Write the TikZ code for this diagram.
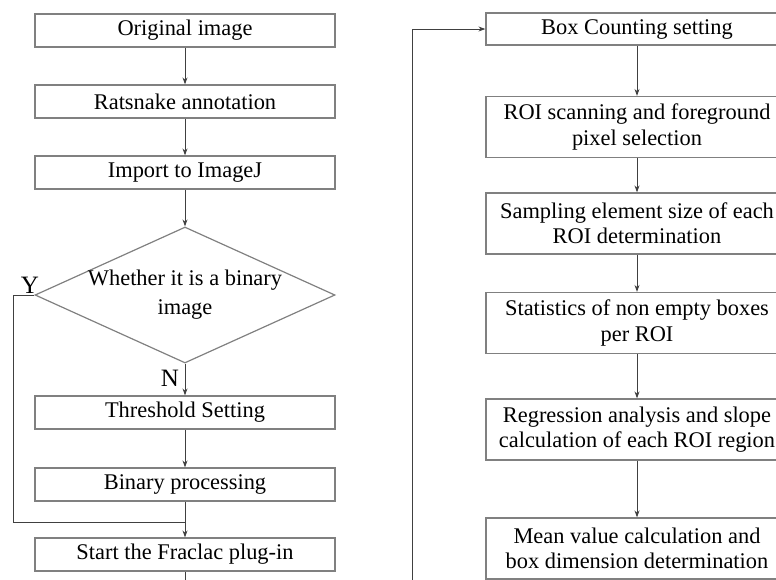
\documentclass[tikz,border=0pt]{standalone}
\usepackage{fontspec}
\setmainfont{Liberation Serif}
\usetikzlibrary{shapes.geometric, arrows.meta}

\begin{document}
\begin{tikzpicture}[x=0.5pt, y=-0.5pt,
    font=\fontsize{11.2}{12.6}\selectfont,
    proc/.style={rectangle, draw=black!50, line width=0.6pt, minimum width=150pt, minimum height=16.5pt, inner sep=1pt, align=center},
    wide/.style={proc, minimum width=151pt, minimum height=30.5pt},
    decide/.style={diamond, draw=black!50, line width=0.6pt, aspect=2.2, inner sep=-2pt, minimum width=150pt, minimum height=68pt, align=center},
    flow/.style={draw=black!75, line width=0.5pt, -{Stealth[length=3.5pt, width=2.5pt]}},
    line/.style={draw=black!75, line width=0.5pt},
    lab/.style={font=\fontsize{12.5}{14}\selectfont, inner sep=0pt}]
    \useasboundingbox (0,0) rectangle (776,579);
    \clip (0,0) rectangle (776,579);

    % left column
    \node[proc] (orig) at (185,30.5) {Original image};
    \node[proc] (rats) at (185,101.5) {Ratsnake annotation};
    \node[proc] (imp) at (185,172.5) {Import to ImageJ};
    \node[decide] (bin) at (185,295) {Whether it is a binary\\[2pt]image};
    \node[proc] (thr) at (185,412.5) {Threshold Setting};
    \node[proc] (binp) at (185,484.5) {Binary processing};
    \node[proc] (frac) at (185,554.5) {Start the Fraclac plug-in};

    % right column
    \node[proc, minimum width=151pt, minimum height=16pt] (boxc) at (637,29) {Box Counting setting};
    \node[wide] (roi) at (637,127) {ROI scanning and foreground\\pixel selection};
    \node[wide] (samp) at (637,223.5) {Sampling element size of each\\ROI determination};
    \node[wide] (stat) at (637,323) {Statistics of non empty boxes\\per ROI};
    \node[wide] (regr) at (637,429.5) {Regression analysis and slope\\calculation of each ROI region};
    \node[wide] (mean) at (637,548.5) {Mean value calculation and\\box dimension determination};

    \coordinate (yturn) at (13,295);
    \coordinate (join) at (185,522);
    \coordinate (down) at (185,620);
    \coordinate (back) at (412,620);
    \coordinate (up) at (412,29);

    \draw[flow] (orig) -- (rats);
    \draw[flow] (rats) -- (imp);
    \draw[flow] (imp) -- (bin);
    \draw[flow] (bin) -- (thr);
    \draw[flow] (thr) -- (binp);
    \draw[flow] (binp) -- (frac);
    \draw[line] (bin.west) -- (yturn) |- (join);
    \draw[flow] (frac.south) -- (down) -- (back) -- (up) -- (boxc.west);

    \draw[flow] (boxc) -- (roi);
    \draw[flow] (roi) -- (samp);
    \draw[flow] (samp) -- (stat);
    \draw[flow] (stat) -- (regr);
    \draw[flow] (regr) -- (mean);

    \node[lab] (ylab) at (30,285) {Y};
    \node[lab] (nlab) at (170,378) {N};
\end{tikzpicture}
\end{document}
